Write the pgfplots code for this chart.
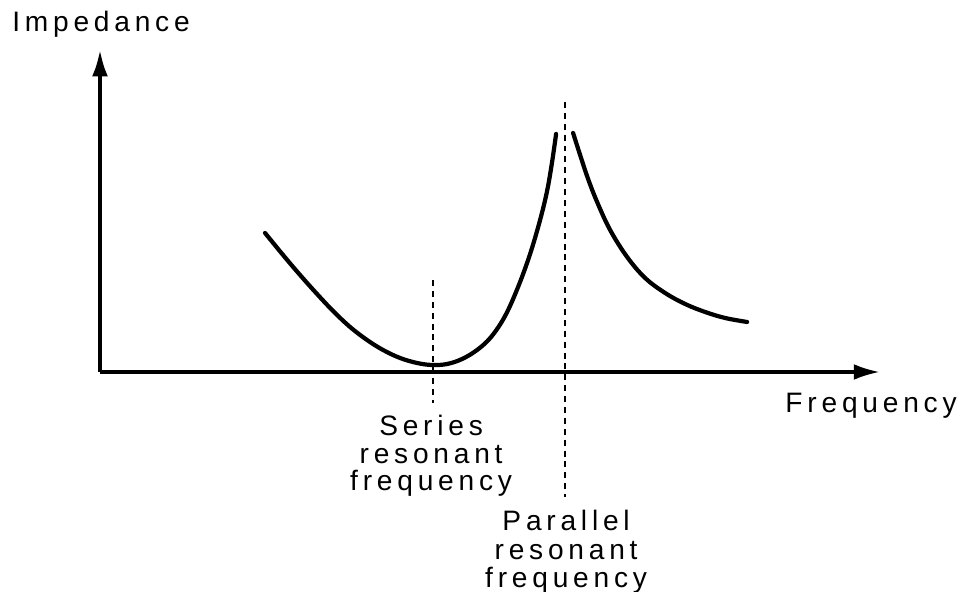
\documentclass[border=0pt]{standalone}
\usepackage{fontspec}
\setmainfont{Liberation Sans}[LetterSpace=17]
\usepackage{pgfplots}
\pgfplotsset{compat=1.18}
\usetikzlibrary{arrows.meta}
\newcommand{\fs}{\fontsize{16}{16.5}\selectfont}
\begin{document}
\begin{tikzpicture}
\begin{axis}[
  x=0.02cm, y=0.02cm,
  xmin=100, xmax=880, ymin=0, ymax=322,
  axis lines=left,
  axis line style={line width=2pt, -{Latex[length=15pt,width=9pt]}},
  xtick=\empty, ytick=\empty,
  clip=false,
]
% impedance curve, left branch up to the peak
\addplot[black, line width=2.4pt, smooth, tension=0.6, line cap=round, line join=round] coordinates {
  (265,139) (283,117) (300,97) (317,78) (333,61) (350,45) (367,32) (383,22)
  (400,14) (417,9) (432,7) (447,8) (462,13) (477,22) (491,35) (505,56)
  (518,85) (530,118) (540,152) (547,181) (552,210) (556,238)
};
% right branch
\addplot[black, line width=2.4pt, smooth, tension=0.6, line cap=round, line join=round] coordinates {
  (573,239) (580,217) (588,193) (597,170) (610,142) (627,115) (645,94)
  (665,79) (685,68) (705,60) (725,54) (747,50)
};
% resonance markers
\addplot[black, line width=0.9pt, dash pattern=on 3.4pt off 2.8pt] coordinates {(433,92) (433,-31)};
\addplot[black, line width=0.9pt, dash pattern=on 3.4pt off 2.8pt] coordinates {(565,270) (565,-125)};
% labels
\node[anchor=base west, font=\fs, inner sep=0pt] at (axis cs:12,340) {Impedance};
\node[anchor=base west, font=\fs, inner sep=0pt] at (axis cs:785,-40) {Frequency};
\node[anchor=base, font=\fs, inner sep=0pt] at (axis cs:431,-63) {Series};
\node[anchor=base, font=\fs, inner sep=0pt] at (axis cs:431,-91) {resonant};
\node[anchor=base, font=\fs, inner sep=0pt] at (axis cs:431,-118) {frequency};
\node[anchor=base, font=\fs, inner sep=0pt] at (axis cs:566,-158) {Parallel};
\node[anchor=base, font=\fs, inner sep=0pt] at (axis cs:566,-187) {resonant};
\node[anchor=base, font=\fs, inner sep=0pt] at (axis cs:566,-215) {frequency};
\end{axis}
\pgfresetboundingbox
\path (-2cm,-4.4cm) rectangle (17.26cm,7.44cm);
\end{tikzpicture}
\end{document}
